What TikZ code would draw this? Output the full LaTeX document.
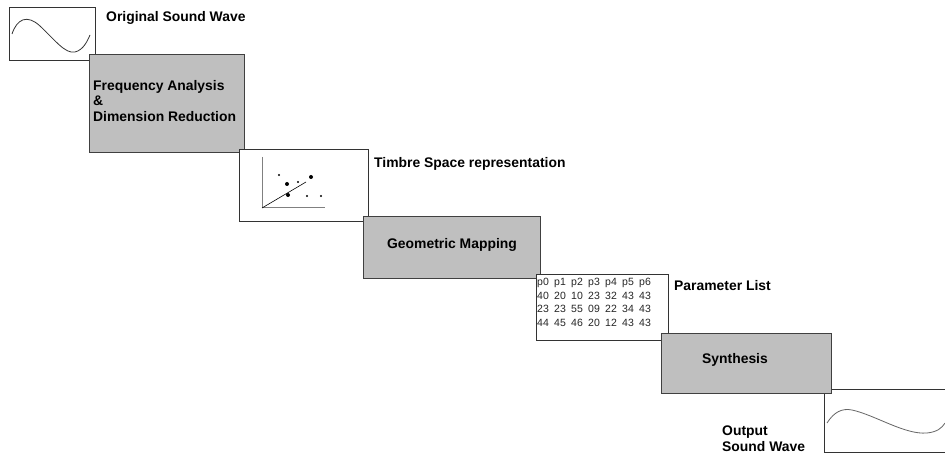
\documentclass[tikz,border=0pt]{standalone}
\usepackage{fontspec}
\setmainfont{Liberation Sans}
\begin{document}
\begin{tikzpicture}[x=1pt,y=-1pt,
  wbox/.style={draw=black!80,fill=white,line width=0.8pt,inner sep=0pt,minimum width=#1},
  gbox/.style={draw=black!75,fill=black!25,line width=0.8pt,inner sep=0pt,minimum width=#1},
  lbl/.style={font=\fontsize{13.9}{15.5}\selectfont\bfseries,inner sep=0pt,align=left},
  cell/.style={font=\fontsize{10.5}{12}\selectfont,inner sep=0pt,anchor=west,text=black!85},
  dotsm/.style={fill=black,inner sep=0pt,minimum size=2.4pt,circle},
  dotbg/.style={fill=black,inner sep=0pt,minimum size=4pt,circle}]
\useasboundingbox (0,0) rectangle (945,454);
\clip (0,0) rectangle (945,454);
% original wave
\node[wbox=86pt,minimum height=53pt] (wave1) at (52,33.5) {};
\draw[black!80,line width=0.8pt] (12,34) .. controls (17,19) and (27,14) .. (40,26)
  .. controls (55,40) and (65,54) .. (75,52) .. controls (83,50) and (87,42) .. (90,35);
\node[lbl,anchor=west] (t1) at (106,18) {Original Sound Wave};
% frequency analysis
\node[gbox=155pt,minimum height=98pt] (freq) at (166.5,103) {};
\node[lbl,anchor=west] (t2) at (93,101) {Frequency Analysis\\\&\\Dimension Reduction};
% timbre space
\node[wbox=129pt,minimum height=72pt] (timbre) at (303.5,185) {};
\draw[black!50,line width=1pt] (262,157) -- (262,208) -- (325,208);
\draw[black,line width=0.6pt] (262,208) -- (306,182);
\node[dotsm] (d1) at (279,175) {};
\node[dotbg] (d2) at (287,184) {};
\node[dotsm] (d3) at (298,182) {};
\node[dotbg] (d4) at (311,177) {};
\node[dotbg] (d5) at (288,195) {};
\node[dotsm] (d6) at (307,196) {};
\node[dotsm] (d7) at (321,196) {};
\node[lbl,anchor=west] (t3) at (374,164) {Timbre Space representation};
% geometric mapping
\node[gbox=177pt,minimum height=62pt] (geom) at (451.5,247) {};
\node[lbl] (t4) at (452,245) {Geometric Mapping};
% parameter list
\node[wbox=132pt,minimum height=66pt] (param) at (602,307) {};
\foreach \r/\y in {{p0,p1,p2,p3,p4,p5,p6}/283,{40,20,10,23,32,43,43}/296,{23,23,55,09,22,34,43}/309,{44,45,46,20,12,43,43}/323}{
  \foreach \v [count=\i] in \r {
    \node[cell] (c\i-\y) at ({537+17*(\i-1)},\y) {\v};
  }
}
\node[lbl,anchor=west] (t5) at (674,286) {Parameter List};
% output wave (drawn before synthesis so synthesis lies on top)
\node[wbox=130pt,minimum height=63pt] (outw) at (889,420.5) {};
\draw[black!60,line width=0.8pt] (827,423) .. controls (834,412) and (842,408) .. (852,410)
  .. controls (875,415) and (905,435) .. (927,433) .. controls (937,432) and (942,428) .. (945,423);
% synthesis
\node[gbox=170pt,minimum height=60pt] (synth) at (746,363) {};
\node[lbl] (t6) at (735,360) {Synthesis};
\node[lbl,anchor=west] (t7) at (722,438.5) {Output\\Sound Wave};
\end{tikzpicture}
\end{document}
